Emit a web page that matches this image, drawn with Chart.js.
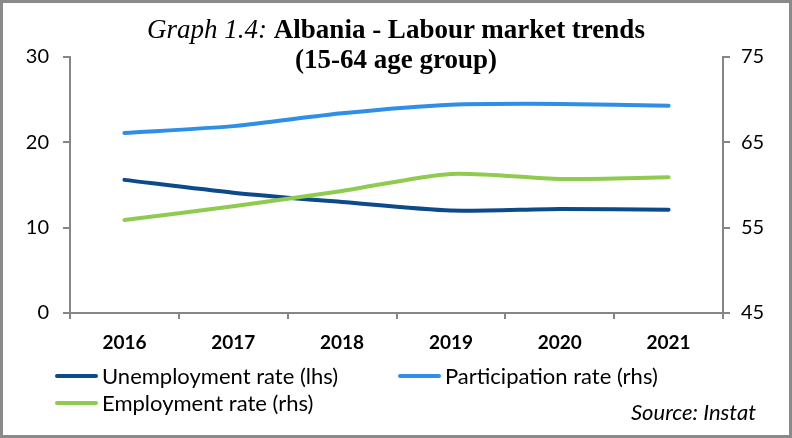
<!DOCTYPE html>
<html>
<head>
<meta charset="utf-8">
<script src="https://cdn.jsdelivr.net/npm/chart.js@4.4.1/dist/chart.umd.min.js"></script>
<style>
    body { margin: 0; background: #fff; }
    #wrap { position: relative; width: 792px; height: 438px; overflow: hidden; background: #fff; }
    #frame { position: absolute; left: 0; top: 0; width: 792px; height: 438px; box-sizing: border-box; border: 3px solid #8a8a8a; pointer-events: none; }
    canvas { position: absolute; left: 0; top: 0; }
    .title { position: absolute; left: 0; top: 14px; width: 792px; text-align: center; font-family: "Liberation Serif", "Times New Roman", serif; font-size: 27px; line-height: 30px; color: #000; }
    .title i { font-weight: normal; }
    .leg { position: absolute; display: flex; align-items: center; white-space: nowrap; font-family: Lato, sans-serif; font-size: 22px; line-height: 26px; color: #000; }
    .leg .sw { display: inline-block; width: 43px; height: 4px; border-radius: 2px; margin-right: 4px; }
    #src { position: absolute; right: 36px; top: 399px; font-family: Lato, sans-serif; font-style: italic; font-size: 22px; line-height: 26px; color: #000; }
</style>
</head>
<body>
<div id="wrap">
    <canvas id="chart" width="792" height="438"></canvas>
    <div class="title"><i>Graph 1.4:</i> <b>Albania - Labour market trends</b><br><b>(15-64 age group)</b></div>
    <div id="legend"></div>
    <div id="src">Source: Instat</div>
    <div id="frame"></div>
</div>
<script>
// chart data
const years = ['2016', '2017', '2018', '2019', '2020', '2021'];
const unemployment = [15.6, 14.1, 13.0, 12.0, 12.2, 12.1];   // lhs
const participation = [66.1, 66.9, 68.4, 69.4, 69.5, 69.3];  // rhs
const employment = [55.9, 57.5, 59.3, 61.3, 60.7, 60.9];     // rhs
const leftRange = [0, 30];
const rightRange = [45, 75];
const tickStep = 10;

const axisGray = '#868686';
const tickFont = { family: 'Lato', size: 20 };

const datasets = [
    { label: 'Unemployment rate (lhs)', data: unemployment, borderColor: '#0d4a8a', yAxisID: 'yL', order: 2 },
    { label: 'Participation rate (rhs)', data: participation, borderColor: '#2f8fe6', yAxisID: 'yR', order: 1 },
    { label: 'Employment rate (rhs)', data: employment, borderColor: '#8fcb4f', yAxisID: 'yR', order: 0 }
];
datasets.forEach(ds => {
    ds.borderWidth = 4;
    ds.pointRadius = 0;
    ds.tension = 0.25;
    ds.borderCapStyle = 'round';
    ds.fill = false;
});

new Chart(document.getElementById('chart'), {
    type: 'line',
    data: { labels: years, datasets: datasets },
    options: {
        responsive: false,
        animation: false,
        layout: { padding: { top: 57, bottom: 0, left: 0, right: 0 } },
        plugins: { legend: { display: false }, title: { display: false }, tooltip: { enabled: false } },
        scales: {
            x: {
                offset: true,
                grid: { offset: true, drawOnChartArea: false, tickLength: 6, color: axisGray, lineWidth: 2 },
                border: { color: axisGray, width: 2 },
                ticks: { color: '#000', font: { family: 'Lato', size: 19, weight: 'bold' }, padding: 12, maxRotation: 0 },
                afterFit: s => { s.height = 125; }
            },
            yL: {
                position: 'left',
                min: leftRange[0], max: leftRange[1],
                grid: { drawOnChartArea: false, tickLength: 7, color: axisGray, lineWidth: 2 },
                border: { color: axisGray, width: 2 },
                ticks: { stepSize: tickStep, color: '#000', font: tickFont, padding: 14 },
                afterFit: s => { s.width = 70; }
            },
            yR: {
                position: 'right',
                min: rightRange[0], max: rightRange[1],
                grid: { drawOnChartArea: false, tickLength: 7, color: axisGray, lineWidth: 2 },
                border: { color: axisGray, width: 2 },
                ticks: { stepSize: tickStep, color: '#000', font: tickFont, padding: 11 },
                afterFit: s => { s.width = 69; }
            }
        }
    }
});

// legend built from the datasets, laid out in two columns like the original
const legendSpots = [[55, 363], [398, 363], [55, 390]];
const legendBox = document.getElementById('legend');
datasets.forEach((ds, i) => {
    const item = document.createElement('div');
    item.className = 'leg';
    item.style.left = legendSpots[i][0] + 'px';
    item.style.top = legendSpots[i][1] + 'px';
    item.innerHTML = '<span class="sw" style="background:' + ds.borderColor + '"></span>' + ds.label;
    legendBox.appendChild(item);
});
</script>
</body>
</html>
